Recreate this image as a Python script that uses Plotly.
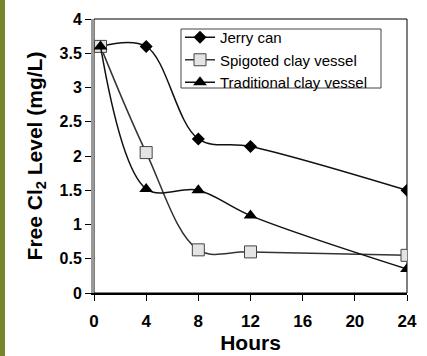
import plotly.graph_objects as go

hours = [0.5, 4, 8, 12, 24]
jerry_can = [3.6, 3.6, 2.25, 2.14, 1.5]
spigoted = [3.6, 2.05, 0.63, 0.6, 0.55]
traditional = [3.6, 1.52, 1.5, 1.13, 0.35]

x_ticks = [0, 4, 8, 12, 16, 20, 24]
y_ticks = [0, 0.5, 1, 1.5, 2, 2.5, 3, 3.5, 4]

FONT = "Liberation Sans, Arial, sans-serif"

fig = go.Figure()
fig.add_trace(go.Scatter(
    x=hours, y=jerry_can, name="Jerry can", mode="lines+markers",
    line=dict(color="#111111", width=1.5, shape="spline", smoothing=1.0),
    marker=dict(symbol="diamond", size=10, color="#000000"),
))
fig.add_trace(go.Scatter(
    x=hours, y=spigoted, name="Spigoted clay vessel", mode="lines+markers",
    line=dict(color="#333333", width=1.5, shape="spline", smoothing=1.0),
    marker=dict(symbol="square", size=12, color="#e4e4e4",
                line=dict(color="#444444", width=1)),
))
fig.add_trace(go.Scatter(
    x=hours, y=traditional, name="Traditional clay vessel", mode="lines+markers",
    line=dict(color="#111111", width=1.5, shape="spline", smoothing=1.0),
    marker=dict(symbol="triangle-up", size=12, color="#000000"),
))

W, H = 427, 356
L, R, T, B = 94, 20, 19, 63
pw, ph = W - L - R, H - T - B


def px_x(v):
    return (v - L) / pw


def px_y(v):
    return 1 - (v - T) / ph


fig.update_layout(
    template="none",
    width=W, height=H,
    margin=dict(l=L, r=R, t=T, b=B, pad=0),
    paper_bgcolor="white", plot_bgcolor="white",
    font=dict(family=FONT, color="#000000"),
    showlegend=True,
    legend=dict(
        x=px_x(180), y=px_y(60), xanchor="left", yanchor="middle",
        bgcolor="rgba(0,0,0,0)", borderwidth=0,
        font=dict(size=15, family=FONT), tracegroupgap=0,
        itemwidth=30,
    ),
    xaxis=dict(
        range=[0, 24], tickvals=x_ticks, ticktext=[str(v) for v in x_ticks],
        showgrid=False, zeroline=False, automargin=False,
        showline=True, linecolor="#000000", linewidth=1.5,
        ticks="outside", ticklen=6, tickcolor="#000000", tickwidth=1,
        tickfont=dict(size=17, family=FONT, weight="bold"),
        ticklabelstandoff=6,
        title=dict(text="Hours", font=dict(size=21, family=FONT, weight="bold"),
                   standoff=4),
    ),
    yaxis=dict(
        range=[0, 4], tickvals=y_ticks,
        ticktext=["0", "0.5", "1", "1.5", "2", "2.5", "3", "3.5", "4"],
        showgrid=False, zeroline=False, automargin=False,
        showline=True, linecolor="#9a9a9a", linewidth=3,
        ticks="outside", ticklen=6, tickcolor="#000000", tickwidth=1,
        tickfont=dict(size=16, family=FONT, weight="bold"),
        title=dict(text="Free Cl<sub>2</sub> Level (mg/L)",
                   font=dict(size=21, family=FONT, weight="bold"), standoff=12),
    ),
    shapes=[
        dict(type="rect", xref="paper", yref="paper", x0=0, x1=1, y0=0, y1=1,
             line=dict(color="#000000", width=1), layer="below"),
        dict(type="rect", xref="paper", yref="paper",
             x0=px_x(0), x1=px_x(5), y0=-B / ph, y1=1 + T / ph,
             fillcolor="#77862b", line=dict(width=0), layer="below"),
        dict(type="rect", xref="paper", yref="paper",
             x0=px_x(181), x1=px_x(381), y0=px_y(88), y1=px_y(29),
             fillcolor="white", line=dict(color="#444444", width=1),
             layer="above"),
    ],
)

fig.write_html(
    "out.html",
    config={"displayModeBar": False, "responsive": False},
    post_script="document.body.style.margin='0';document.body.style.padding='0';",
)
